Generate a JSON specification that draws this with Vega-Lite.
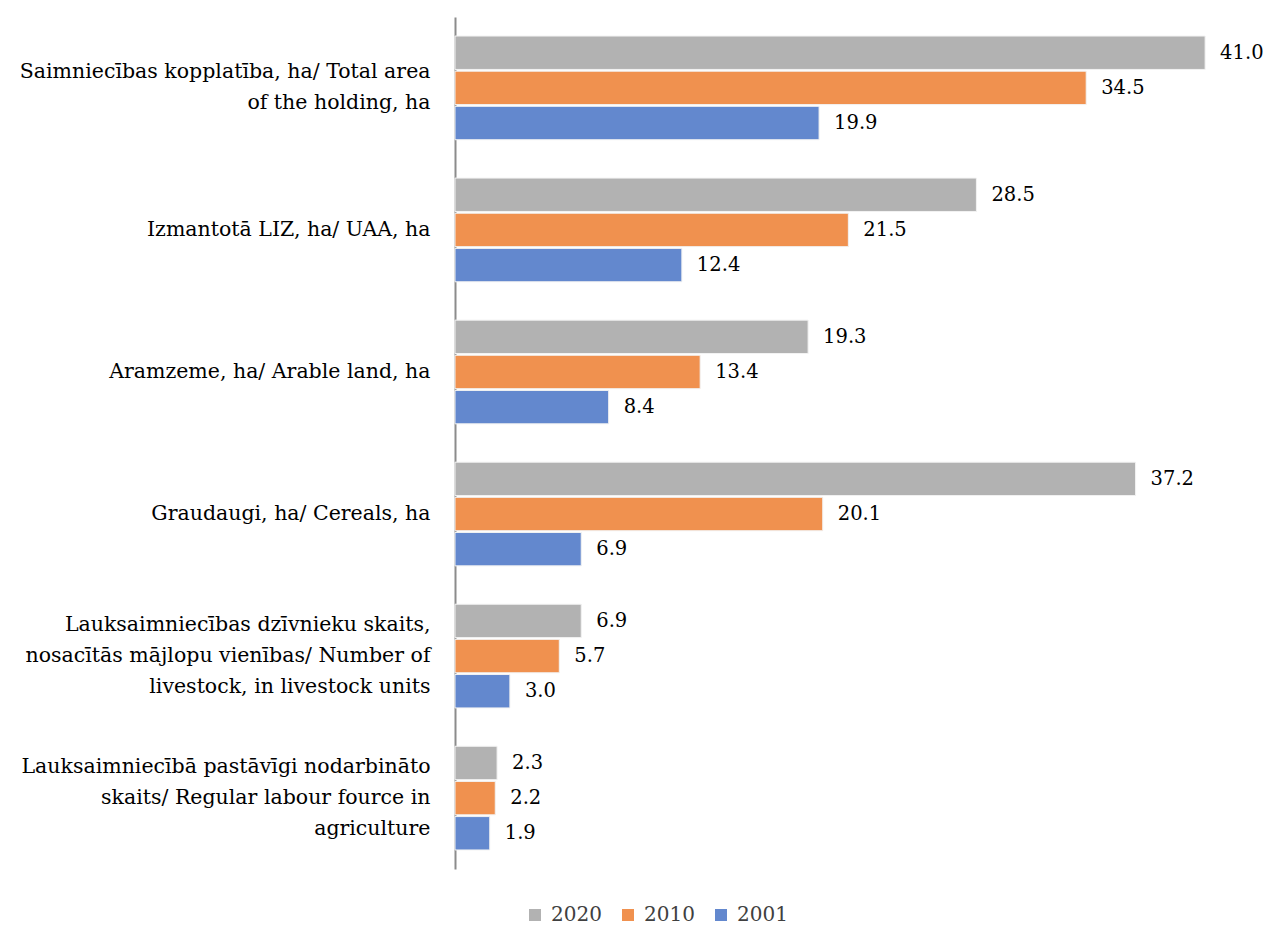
{
  "$schema": "https://vega.github.io/schema/vega-lite/v6.json",
  "autosize": {"type": "none"},
  "padding": {"left": 455, "top": 17, "right": 12, "bottom": 58},
  "width": 805,
  "height": 852,
  "background": "white",
  "config": {"view": {"stroke": null}, "font": "DejaVu Serif"},
  "data": {"values": [
    {"cat": "Saimniecības kopplatība, ha/ Total area|of the holding, ha", "year": "2020", "v": 41.0},
    {"cat": "Saimniecības kopplatība, ha/ Total area|of the holding, ha", "year": "2010", "v": 34.5},
    {"cat": "Saimniecības kopplatība, ha/ Total area|of the holding, ha", "year": "2001", "v": 19.9},
    {"cat": "Izmantotā LIZ, ha/ UAA, ha", "year": "2020", "v": 28.5},
    {"cat": "Izmantotā LIZ, ha/ UAA, ha", "year": "2010", "v": 21.5},
    {"cat": "Izmantotā LIZ, ha/ UAA, ha", "year": "2001", "v": 12.4},
    {"cat": "Aramzeme, ha/ Arable land, ha", "year": "2020", "v": 19.3},
    {"cat": "Aramzeme, ha/ Arable land, ha", "year": "2010", "v": 13.4},
    {"cat": "Aramzeme, ha/ Arable land, ha", "year": "2001", "v": 8.4},
    {"cat": "Graudaugi, ha/ Cereals, ha", "year": "2020", "v": 37.2},
    {"cat": "Graudaugi, ha/ Cereals, ha", "year": "2010", "v": 20.1},
    {"cat": "Graudaugi, ha/ Cereals, ha", "year": "2001", "v": 6.9},
    {"cat": "Lauksaimniecības dzīvnieku skaits,|nosacītās mājlopu vienības/ Number of|livestock, in livestock units", "year": "2020", "v": 6.9},
    {"cat": "Lauksaimniecības dzīvnieku skaits,|nosacītās mājlopu vienības/ Number of|livestock, in livestock units", "year": "2010", "v": 5.7},
    {"cat": "Lauksaimniecības dzīvnieku skaits,|nosacītās mājlopu vienības/ Number of|livestock, in livestock units", "year": "2001", "v": 3.0},
    {"cat": "Lauksaimniecībā pastāvīgi nodarbināto|skaits/ Regular labour fource in|agriculture", "year": "2020", "v": 2.3},
    {"cat": "Lauksaimniecībā pastāvīgi nodarbināto|skaits/ Regular labour fource in|agriculture", "year": "2010", "v": 2.2},
    {"cat": "Lauksaimniecībā pastāvīgi nodarbināto|skaits/ Regular labour fource in|agriculture", "year": "2001", "v": 1.9}
  ]},
  "encoding": {
    "y": {
      "field": "cat", "type": "nominal", "sort": null,
      "scale": {"paddingInner": 0.27, "paddingOuter": 0.134},
      "axis": {
        "title": null, "ticks": false, "domainColor": "#8c8c8c", "domainWidth": 2,
        "labelExpr": "split(datum.value, '|')",
        "labelFont": "DejaVu Serif", "labelFontSize": 20.5, "labelColor": "#000000",
        "labelLineHeight": 31, "labelPadding": 25, "labelLimit": 500, "labelAlign": "right",
        "labelOffset": {"condition": [
          {"test": "indexof(datum.value, '|') < 0", "value": 0},
          {"test": "length(split(datum.value, '|')) == 2", "value": -15.5}
        ], "value": -31}
      }
    },
    "yOffset": {"field": "year", "type": "nominal", "sort": ["2020", "2010", "2001"],
      "scale": {"paddingInner": 0.05, "paddingOuter": 0}},
    "x": {"field": "v", "type": "quantitative", "scale": {"domain": [0, 44], "nice": false}, "axis": null}
  },
  "layer": [
    {
      "mark": {"type": "bar", "stroke": "#f2f2f2", "strokeWidth": 1},
      "encoding": {
        "color": {
          "field": "year", "type": "nominal",
          "scale": {"domain": ["2020", "2010", "2001"], "range": ["#B2B2B2", "#F0914F", "#6388CE"]},
          "legend": {
            "title": null, "orient": "none", "direction": "horizontal",
            "legendX": 70, "legendY": 888,
            "symbolType": "square", "symbolSize": 144, "symbolStrokeWidth": 0,
            "labelFont": "DejaVu Serif", "labelFontSize": 20, "labelColor": "#404040",
            "labelOffset": 6, "columnPadding": 16
          }
        }
      }
    },
    {
      "mark": {"type": "text", "align": "left", "baseline": "middle", "dx": 15, "fontSize": 19.5, "font": "DejaVu Serif", "color": "#000000"},
      "encoding": {"text": {"field": "v", "type": "quantitative", "format": ".1f"}}
    }
  ]
}
